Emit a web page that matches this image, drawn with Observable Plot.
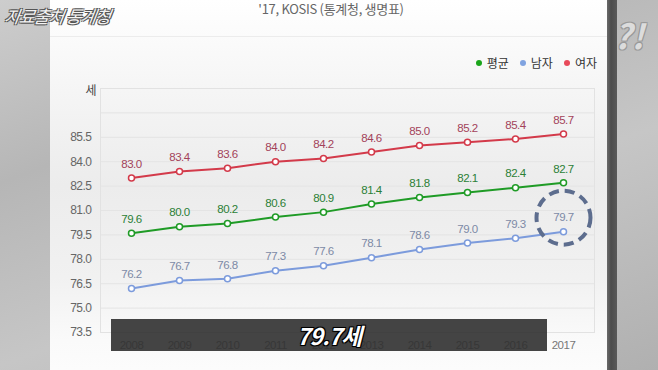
<!DOCTYPE html>
<html><head><meta charset="utf-8">
<script src="https://cdn.jsdelivr.net/npm/d3@7"></script>
<script src="https://cdn.jsdelivr.net/npm/@observablehq/plot@0.6"></script>
<style>
html,body{margin:0;padding:0;}
body{width:658px;height:370px;position:relative;overflow:hidden;font-family:"Noto Sans CJK KR","Noto Sans",sans-serif;
 background:linear-gradient(160deg,#cdcdcd 0%,#b6b6b6 30%,#c6c6c6 60%,#b0b0b0 100%);}
#panel{position:absolute;left:50px;top:0;width:557px;height:370px;
 background:linear-gradient(to bottom,#ffffff 0%,#f6f6f6 22%,#ececec 50%,#f1f1f1 75%,#fafafa 92%,#fcfcfc 100%);}
#bar{position:absolute;left:607px;top:0;width:10px;height:370px;background:linear-gradient(to right,#6a6a6a,#4c4c4c 40%,#5a5a5a);}
#chart{position:absolute;left:50px;top:70px;}
#title{position:absolute;left:0;width:662px;top:0px;text-align:center;font-size:13px;line-height:17px;color:#666;letter-spacing:-0.3px;}
#src{position:absolute;left:5px;top:3px;font-size:17px;font-style:italic;color:#f4f4f4;letter-spacing:-1px;
 text-shadow:-1px -1px 0 #555,1px -1px 0 #555,-1px 1px 0 #555,1px 1px 0 #555;transform:skewX(-8deg);}
#legend{position:absolute;top:54px;right:61px;font-size:12px;color:#333;display:flex;gap:11px;}
#legend span{display:flex;align-items:center;gap:5px;}
#legend i{display:inline-block;width:6px;height:6px;border-radius:50%;}
#cap{position:absolute;left:111px;top:319px;width:436px;height:32px;background:rgba(48,48,48,0.9);
 text-align:center;line-height:32px;font-size:23px;font-weight:bold;font-style:italic;color:#fff;letter-spacing:-1px;
 text-shadow:-1px -1px 0 #000,1px -1px 0 #000,-1px 1px 0 #000,1px 1px 0 #000,0 0 2px #000;}
#deco{position:absolute;left:614px;top:10px;font-size:34px;font-weight:bold;font-style:italic;color:#dcdcdc;
 text-shadow:-1px -1px 0 #999,1px -1px 0 #999,-1px 1px 0 #999,1px 1px 0 #999;}
#hline{position:absolute;left:50px;top:36px;width:557px;height:1px;background:#ececec;}
#chart svg text{letter-spacing:-0.5px;}
</style></head>
<body>
<div id="panel"></div>
<div id="hline"></div>
<div id="bar"></div>
<div id="title">'17, KOSIS (통계청, 생명표)</div>
<div id="src">자료출처 통계청</div>
<div id="deco">?!</div>
<div id="legend"></div>
<div id="chart"></div>
<div id="cap">79.7세</div>
<script>
const years = [2008, 2009, 2010, 2011, 2012, 2013, 2014, 2015, 2016, 2017];
const avgValues = [79.6, 80.0, 80.2, 80.6, 80.9, 81.4, 81.8, 82.1, 82.4, 82.7];
const maleValues = [76.2, 76.7, 76.8, 77.3, 77.6, 78.1, 78.6, 79.0, 79.3, 79.7];
const femaleValues = [83.0, 83.4, 83.6, 84.0, 84.2, 84.6, 85.0, 85.2, 85.4, 85.7];
const seriesNames = ["평균", "남자", "여자"];
const yTicks = [73.5, 75.0, 76.5, 78.0, 79.5, 81.0, 82.5, 84.0, 85.5];
const yGrid = [73.5, 75.0, 76.5, 78.0, 79.5, 81.0, 82.5, 84.0, 85.5, 87.0, 88.5];
const yUnit = "세";
const highlightYear = 2017;

const lineColors = {"평균": "#1f9b26", "남자": "#7c9bdc", "여자": "#d33a4a"};
const labelColors = {"평균": "#2b7f36", "남자": "#7d8aa6", "여자": "#a3425a"};
const legendColors = {"평균": "#1aa51a", "남자": "#80a3e0", "여자": "#e84a5a"};

const seriesValues = {"평균": avgValues, "남자": maleValues, "여자": femaleValues};
const data = [];
for (const s of seriesNames) years.forEach((y, i) => data.push({series: s, year: y, value: seriesValues[s][i]}));

const numFont = "'Liberation Sans Narrow','Arial Narrow','Liberation Sans',Arial,sans-serif";

const chart = Plot.plot({
  width: 557, height: 290,
  marginLeft: 50, marginRight: 13, marginTop: 18, marginBottom: 28,
  style: {background: "transparent", fontFamily: numFont, fontSize: "12px"},
  x: {type: "point", domain: years, padding: 0.56},
  y: {domain: [73.5, 88.5]},
  marks: [
    Plot.ruleY(yGrid, {stroke: "#e4e4e4", strokeWidth: 1}),
    Plot.frame({stroke: "#e2e2e2"}),
    Plot.axisX({tickSize: 0, tickPadding: 8, tickFormat: d => String(d), fill: "#777", fontSize: 11.5, label: null}),
    Plot.axisY(yTicks, {tickSize: 0, tickPadding: 9, tickFormat: d => d.toFixed(1), fill: "#666", fontSize: 12, label: null}),
    Plot.text([yUnit], {frameAnchor: "top-left", dx: -15, dy: -2, lineAnchor: "top", fontSize: 12, fill: "#444", fontFamily: "'Noto Sans CJK KR',sans-serif"}),
    Plot.line(data, {x: "year", y: "value", z: "series", stroke: d => lineColors[d.series], strokeWidth: 2}),
    Plot.dot(data, {x: "year", y: "value", r: 3, fill: "#fff", stroke: d => lineColors[d.series], strokeWidth: 1.5}),
    Plot.text(data, {x: "year", y: "value", text: d => d.value.toFixed(1), dy: -14, fill: d => labelColors[d.series], fontSize: 11.5}),
    Plot.dot(data.filter(d => d.series === "남자" && d.year === highlightYear),
      {x: "year", y: "value", r: 27, dy: -14, fill: "none", stroke: "#5d6d8e", strokeWidth: 4, strokeDasharray: "10,6"})
  ]
});
document.getElementById("chart").appendChild(chart);

const legend = document.getElementById("legend");
for (const s of seriesNames) {
  const sp = document.createElement("span");
  sp.innerHTML = `<i style="background:${legendColors[s]}"></i>${s}`;
  legend.appendChild(sp);
}
</script>
</body></html>
